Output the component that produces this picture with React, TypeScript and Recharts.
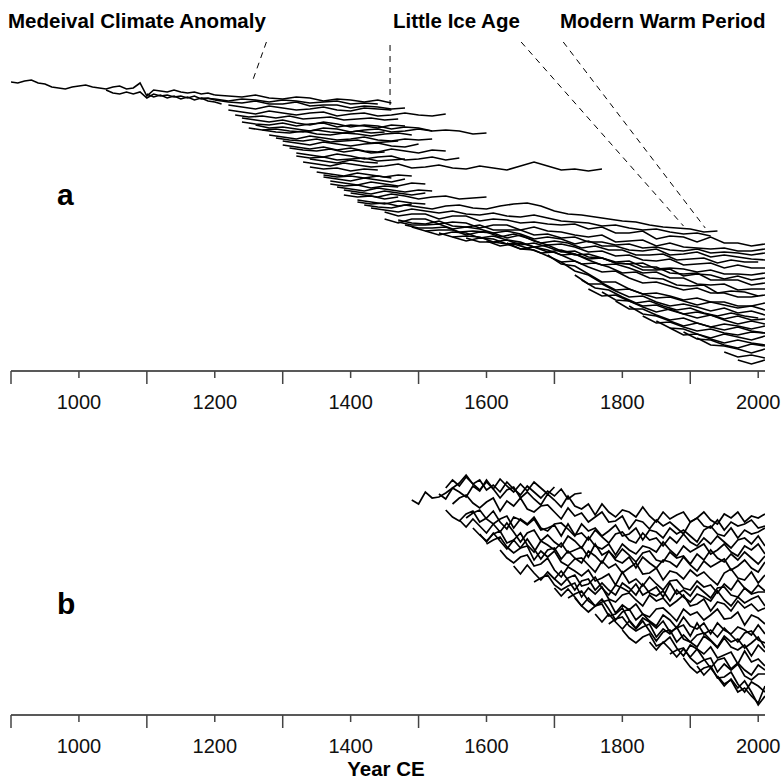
import React from "react"
import { LineChart, Line, XAxis, YAxis, ReferenceLine } from "recharts"

type Series = { from: number; step: number; d: number[] }

// offsets (depth below the top of each panel, arbitrary units)
const trunkA: Series[] = [
  { from: 900, step: 10, d: [11, 11.5, 10.5, 10, 11.5, 12, 13.5, 14, 14.5, 13.5, 13, 12.5, 13.5, 14, 14.5, 13.5, 13, 14.5, 14, 11.5, 18, 15, 15.5, 16, 15, 16, 16.5, 16, 17, 16.5, 17.5] },
  { from: 1040, step: 10, d: [15, 16.5, 17, 16, 17, 16, 19, 17, 18, 17.5, 18.5, 18, 19, 18, 19.5, 19, 20] },
  { from: 1100, step: 10, d: [17, 18.5, 17.5, 19, 18, 19.5, 18.5, 20, 19, 20.5, 21, 22] },
]

const earlyA: Series[] = [
  { from: 1200, step: 20, d: [17.5, 18, 18.5, 17.5, 19, 19.5, 18.5, 19, 20.5, 19.5, 20, 21, 20, 21.5] },
  { from: 1180, step: 20, d: [19, 19.5, 20.5, 19.5, 20, 21, 20, 20.5, 21.5, 21, 20.5, 22, 21.5, 22] },
  { from: 1200, step: 20, d: [20, 21, 21.5, 20.5, 22, 22, 21, 23, 22.5, 22.5, 24, 23, 23.5, 24.5, 24] },
  { from: 1220, step: 20, d: [22.5, 23.5, 24.5, 23, 24, 25, 24.5, 23.5, 25, 25.5, 24, 24.5, 25] },
  { from: 1220, step: 20, d: [25, 26, 27, 25.5, 26.5, 27.5, 26.5, 26, 28, 27, 26.5, 28, 27.5, 26.5, 27.5, 28, 27] },
  { from: 1230, step: 20, d: [27.5, 28.5, 28, 29, 28, 29.5, 29, 28.5, 30, 29.5, 29, 30, 29.5] },
  { from: 1240, step: 20, d: [29, 30, 31, 30, 31.5, 32.5, 31, 32, 33.5, 32.5, 33, 34.5, 33.5, 34, 35.5, 35, 35.5, 37, 36.5] },
  { from: 1240, step: 20, d: [31, 32, 32.5, 31.5, 33, 32, 31.5, 33.5, 32.5, 33, 34, 32.5, 33] },
  { from: 1260, step: 20, d: [32.5, 34, 33.5, 34.5, 35.5, 34, 34.5, 36, 35, 34.5, 36, 35.5, 34.5, 35.5] },
  { from: 1250, step: 20, d: [34, 35, 34.5, 35.5, 36, 35, 36, 36.5, 35.5, 36.5, 36] },
  { from: 1270, step: 20, d: [35, 36, 36.5, 35.5, 37, 37.5, 36.5, 37, 38, 37, 36.5, 37.5] },
  { from: 1280, step: 20, d: [37.5, 38.5, 39.5, 38, 39, 40, 39.5, 38.5, 40, 40.5, 39.5, 40, 39.5] },
  { from: 1290, step: 20, d: [39, 40, 40.5, 39.5, 41, 40.5, 40, 41.5, 41, 40.5] },
  { from: 1300, step: 20, d: [40.5, 41.5, 42.5, 41, 42, 43, 42, 41.5, 43, 43.5, 42] },
  { from: 1300, step: 20, d: [42.5, 43.5, 44.5, 43.5, 45, 44, 45.5, 46, 44.5, 45.5, 46.5, 45, 45.5] },
  { from: 1310, step: 20, d: [44, 45, 45.5, 44.5, 46, 45, 46.5, 46] },
  { from: 1320, step: 20, d: [46.5, 47.5, 48.5, 47, 48, 49.5, 48.5, 48, 50, 49.5, 48.5, 50, 49] },
  { from: 1320, step: 20, d: [48, 49, 48.5, 50, 49.5, 49, 50.5, 50, 49.5] },
  { from: 1340, step: 20, d: [49.5, 50.5, 51.5, 50, 51, 51.5] },
  { from: 1330, step: 20, d: [51, 52, 53, 51.5, 52.5, 53.5, 53, 52, 54, 53.5, 52.5, 54, 54.5, 53, 54, 55, 53, 51, 53, 55, 54.5, 55.5, 54.5] },
  { from: 1340, step: 20, d: [53.5, 54.5, 54, 55.5, 54.5, 55] },
  { from: 1350, step: 20, d: [56, 57, 58, 56.5, 57.5, 58.5, 57.5, 58] },
  { from: 1360, step: 20, d: [57.5, 58.5, 58, 59, 58, 59] },
  { from: 1360, step: 20, d: [58.5, 59.5, 60.5, 59, 60, 61, 59.5] },
  { from: 1370, step: 20, d: [60.5, 61.5, 62.5, 61, 62, 63, 61.5, 62] },
  { from: 1370, step: 20, d: [62, 63, 62.5, 64, 63, 63.5] },
  { from: 1380, step: 20, d: [63.5, 64.5, 65.5, 64, 65, 66, 65, 65.5] },
  { from: 1390, step: 20, d: [65, 66, 67, 65.5, 66.5, 67.5, 66.5] },
  { from: 1400, step: 20, d: [66.5, 67.5, 68.5, 67, 68, 69.5, 68.5, 68, 69.5, 69, 68.5] },
  { from: 1390, step: 20, d: [67.5, 68.5, 68, 69.5, 68.5] },
  { from: 1410, step: 20, d: [70, 71, 72, 70.5, 71.5, 72] },
  { from: 1410, step: 20, d: [71, 72, 71.5, 73, 72] },
]

const lateA: Series[] = [
  { from: 1420, step: 20, d: [72.5, 73.5, 74, 72.5, 73.5, 74.5, 73, 72.5, 74, 74.5, 73, 72, 71.5, 73, 75.5, 77, 77.5, 78.5, 79.5, 80.5, 81, 82.5, 83.5, 84, 84.5, 86, 85.5] },
  { from: 1430, step: 20, d: [74, 75, 76, 74.5, 75.5, 76.5, 75.5, 77, 77.5, 76.5, 78, 78.5, 77.5, 79, 80.5, 81, 81.5, 83, 82.5, 84, 85, 84.5, 86, 87, 86.5, 88] },
  { from: 1450, step: 20, d: [76, 78, 77, 77, 79.5, 78, 78, 80.5, 79.5, 80, 81.5, 81, 82, 82.5, 82, 84.5, 83.5, 86.5, 86.5, 85.5, 89.5, 88, 88.5, 91, 88.5, 91.5, 91.5, 93, 92] },
  { from: 1450, step: 20, d: [79.5, 81.5, 79.5, 79.5, 82, 81, 81.5, 84, 82.5, 82.5, 85, 83.5, 85.5, 86, 87.5, 88.5, 87.5, 91, 90.5, 90, 93, 91.5, 93.5, 94, 94.5, 94, 95.5, 95.5, 94.5] },
  { from: 1470, step: 20, d: [80, 81.5, 82, 80.5, 83, 83.5, 82.5, 85, 85, 85, 87.5, 87, 89, 88.5, 91, 91, 92.5, 92, 94, 93.5, 95, 95.5, 94.5, 96.5, 96, 96.5, 97.5, 96.5] },
  { from: 1470, step: 20, d: [81, 82.5, 82.5, 82, 84.5, 83.5, 84.5, 86.5, 85.5, 87, 89.5, 88.5, 89.5, 92, 90.5, 93, 93, 95, 95.5, 94.5, 97.5, 97, 96, 98.5, 97.5, 98.5, 99.5, 100] },
  { from: 1480, step: 20, d: [82.5, 84, 84, 83.5, 86, 85.5, 86, 88.5, 87, 89, 91.5, 90.5, 91.5, 94, 93, 95, 95, 97.5, 97.5, 97, 100, 99.5, 99, 101.5, 100, 101, 101] },
  { from: 1490, step: 20, d: [83.5, 85.5, 85, 85, 87.5, 86, 86.5, 89, 87.5, 90.5, 92.5, 92, 93.5, 96, 95.5, 98, 97.5, 100, 100.5, 99.5, 102.5, 102, 101.5, 104, 102.5, 104, 104] },
  { from: 1510, step: 20, d: [85.5, 87.5, 86, 86.5, 89, 88, 90, 92.5, 91.5, 93.5, 96, 95.5, 98.5, 99, 101.5, 102, 101.5, 104.5, 104, 104.5, 106, 105, 107, 107, 107.5, 106.5] },
  { from: 1530, step: 20, d: [86.5, 88.5, 88, 88.5, 91, 90, 91, 93.5, 92.5, 95.5, 97.5, 97, 99, 101, 100.5, 103.5, 103.5, 106.5, 107, 106.5, 110, 110, 110, 112.5, 111.5] },
  { from: 1550, step: 20, d: [88.5, 90.5, 89, 89.5, 92, 91.5, 93.5, 96, 95, 97, 99.5, 99, 101.5, 102, 105, 105, 104.5, 108, 107, 107.5, 109.5, 108, 110, 109] },
  { from: 1570, step: 20, d: [89, 91, 91, 92, 94.5, 93.5, 95, 97.5, 97, 100, 102.5, 102, 104, 106.5, 106, 109, 109, 112, 112.5, 112, 115, 114.5, 114.5] },
  { from: 1600, step: 20, d: [90.5, 93, 92, 94, 96.5, 96, 99, 102, 101.5, 103.5, 106.5, 106, 109, 109.5, 112.5, 113, 112.5, 116.5, 115.5, 116, 118] },
  { from: 1630, step: 20, d: [91.5, 94.5, 95, 98, 101, 100.5, 103.5, 106, 105.5, 109, 111.5, 111, 113, 115, 114, 116.5, 116.5, 118.5, 118.5, 117.5] },
  { from: 1690, step: 20, d: [97.5, 102, 103, 107, 111, 111, 114.5, 117, 116.5, 118, 120, 119, 121, 121, 123, 123, 121.5] },
  { from: 1710, step: 20, d: [101, 105.5, 107.5, 111.5, 115, 114.5, 117, 119, 118.5, 120.5, 122.5, 121, 122.5, 124, 123, 125] },
  { from: 1730, step: 20, d: [107.5, 112, 112, 115.5, 118.5, 118, 121, 123, 122, 123.5, 125.5, 124, 126.5, 125.5, 127.5] },
  { from: 1740, step: 20, d: [110, 114, 115, 118.5, 121.5, 120.5, 123, 125, 124, 126.5, 128, 126.5, 128, 129] },
  { from: 1750, step: 20, d: [114.5, 118, 117.5, 120.5, 123, 122.5, 125, 127, 126, 127.5, 129.5, 128, 130, 129.5] },
  { from: 1770, step: 20, d: [116, 120, 120.5, 123.5, 126, 124.5, 127, 129, 127.5, 130, 132, 130.5, 132] },
  { from: 1790, step: 20, d: [120.5, 124.5, 124.5, 127.5, 130, 129, 131.5, 133.5, 132, 133, 134.5, 133] },
  { from: 1810, step: 20, d: [123, 127, 128, 130.5, 133, 131.5, 133.5, 135, 133.5, 135.5, 136.5] },
  { from: 1830, step: 20, d: [128, 131.5, 131, 133.5, 135.5, 134.5, 136.5, 137.5, 136, 136.5] },
  { from: 1850, step: 20, d: [130.5, 134, 134.5, 137, 139, 137, 138.5, 140, 138] },
  { from: 1870, step: 20, d: [134, 137.5, 137, 139.5, 141.5, 140, 141.5, 142.5] },
  { from: 1890, step: 20, d: [136, 139.5, 140, 142.5, 144, 142, 143] },
  { from: 1910, step: 20, d: [139, 142.5, 143, 144.5, 146.5, 144.5] },
  { from: 1950, step: 20, d: [146, 148.5, 147.5, 149] },
  { from: 1970, step: 20, d: [150, 152, 150] },
]

const seriesB: Series[] = [
  { from: 1490, step: 10, d: [20, 22, 16, 19, 18.5, 16.5, 14, 11.5, 7.5, 12, 10, 15, 12.5, 16, 11, 14.5, 17.5, 13, 16, 19, 15.5, 18, 14.5, 19.5, 17, 16.5] },
  { from: 1540, step: 10, d: [14, 10, 13, 8.5, 12, 15, 11, 14.5, 9.5, 13, 16, 12, 15.5, 11, 14, 17, 13.5] },
  { from: 1530, step: 10, d: [17, 19.5, 14, 16, 18.5, 13, 15.5, 10, 14.5, 19, 15, 13.5, 19, 16, 19.5, 22.5, 17, 20, 23.5, 18, 23, 24.5, 22, 27.5, 22, 26, 28.5, 25, 26, 28.5, 23.5, 28, 31, 26, 29.5, 27.5, 26, 31, 29, 26, 30, 32, 27, 29, 26, 31, 28, 29, 27] },
  { from: 1550, step: 10, d: [22, 19, 17.5, 21.5, 24, 21, 19, 25.5, 20.5, 23, 19, 24.5, 26, 23, 22.5, 26, 29.5, 24, 28, 26.5, 31, 28.5, 26, 31, 30.5, 28, 34.5, 30, 31, 34.5, 30, 33, 31, 34, 37, 31, 29, 33, 34, 30, 35, 31, 33, 32, 30, 34, 33] },
  { from: 1540, step: 10, d: [25, 28.5, 30.5, 27, 25.5, 31, 29, 25.5, 31, 34.5, 28.5, 30, 32.5, 29.5, 35, 34, 32.5, 38, 32, 37.5, 36.5, 40, 35, 38.5, 41.5, 37, 36, 40, 41.5, 36.5, 40, 39, 43, 38.5, 41.5, 37, 41, 43, 39, 42, 38, 41, 44, 40, 39, 42, 38, 43] },
  { from: 1560, step: 10, d: [30, 33.5, 29.5, 33, 36.5, 32, 36, 31.5, 36, 41, 36.5, 35, 40.5, 37.5, 41, 43.5, 38, 40.5, 44, 38.5, 43, 44.5, 42, 47.5, 42, 45, 47, 43, 44, 46, 41, 45, 48, 43, 46, 44, 42, 47, 45, 42, 46, 48, 43, 45, 42, 47] },
  { from: 1570, step: 10, d: [29, 26.5, 25, 29.5, 32, 29.5, 28, 34, 29.5, 32, 28.5, 34, 35.5, 32, 31.5, 34.5, 38, 32, 35.5, 34, 38, 35.5, 32.5, 38, 37, 34, 40, 35, 36, 39, 34, 37, 35, 38, 41, 35, 33, 37, 38, 34, 39, 35, 37, 36, 34] },
  { from: 1580, step: 10, d: [34, 37.5, 40.5, 37, 35.5, 41.5, 40, 36.5, 42.5, 46, 40.5, 42.5, 45, 41.5, 46.5, 45, 43.5, 48.5, 42, 47.5, 45.5, 49, 44.5, 47.5, 51, 46.5, 45.5, 50, 51, 46, 49, 48, 52, 47, 50, 45, 49, 51, 47, 50, 46, 49, 52, 48] },
  { from: 1590, step: 10, d: [37, 41, 36.5, 40.5, 44.5, 40, 44, 39.5, 44.5, 49.5, 45, 44, 49.5, 45.5, 49, 51.5, 45.5, 48, 51.5, 45.5, 50, 51.5, 48.5, 54, 48.5, 51.5, 54, 50, 51, 53.5, 48.5, 52.5, 55.5, 50.5, 53.5, 51.5, 49.5, 55, 53, 50, 54, 56, 51] },
  { from: 1600, step: 10, d: [42, 40, 38.5, 43.5, 46.5, 44, 43, 50, 45.5, 48.5, 45.5, 51, 53, 49.5, 49, 52.5, 56, 50.5, 54, 52, 56.5, 54, 51.5, 57, 56.5, 54, 60, 55.5, 56.5, 59.5, 55, 58, 56, 59.5, 62.5, 56.5, 54.5, 59, 60, 56, 61.5, 57.5] },
  { from: 1620, step: 10, d: [45, 49, 51.5, 48.5, 47.5, 53, 52, 49, 55, 58.5, 53.5, 55.5, 58, 55, 60.5, 59, 57, 62.5, 56, 61.5, 59.5, 63, 58.5, 62, 65, 60.5, 60, 64, 65, 60.5, 63.5, 62.5, 66.5, 62, 65, 60, 64, 66.5, 62.5, 65.5] },
  { from: 1640, step: 10, d: [53, 57, 52.5, 56.5, 60, 56, 59.5, 55.5, 60, 65, 60.5, 59.5, 65, 61.5, 65, 67.5, 61.5, 64, 67.5, 62, 66.5, 68, 65.5, 70.5, 65, 68.5, 71, 67, 68.5, 70.5, 65.5, 70, 73, 68.5, 71.5, 69.5, 68, 73] },
  { from: 1670, step: 10, d: [61, 59, 57.5, 62.5, 65, 63, 61.5, 68.5, 64, 67, 63.5, 69.5, 71, 67.5, 66.5, 70, 73, 67.5, 70.5, 69, 73, 70.5, 67.5, 73, 72, 69.5, 75.5, 71, 72, 75.5, 70.5, 74, 72, 75.5, 74] },
  { from: 1690, step: 10, d: [56, 59.5, 62.5, 59, 57.5, 63, 62, 58.5, 64, 67.5, 62.5, 64, 66, 62, 67.5, 65.5, 63.5, 68.5, 61.5, 67, 65, 68, 63, 66, 69, 64, 63.5, 67.5, 68.5, 64, 67, 66, 66] },
  { from: 1700, step: 10, d: [64, 68, 64.5, 68.5, 73, 69, 73, 69.5, 74.5, 80, 76, 74.5, 80, 77, 80.5, 83, 77.5, 80, 84, 78.5, 83, 84.5, 81.5, 87, 81.5, 85, 87, 83.5, 85, 87.5, 82.5, 87] },
  { from: 1720, step: 10, d: [69, 67, 65.5, 70.5, 73, 71, 70, 76.5, 72.5, 75, 72, 77, 78.5, 74.5, 74, 77, 80.5, 74.5, 77.5, 76, 80, 77.5, 74.5, 79.5, 79, 76, 82.5, 77.5, 79, 82] },
  { from: 1730, step: 10, d: [69, 73, 76, 73, 72, 78, 77, 74, 80, 84, 79, 81, 84, 80.5, 86, 84, 82.5, 88, 81.5, 87, 85, 88.5, 84, 87.5, 91, 86.5, 85.5, 90, 91.5] },
  { from: 1760, step: 10, d: [77, 81, 77, 81, 84.5, 80.5, 84.5, 80.5, 85.5, 90.5, 86, 85, 91, 87.5, 91, 93.5, 88, 90.5, 94, 89, 93.5, 95, 92.5, 98, 92.5, 96] },
  { from: 1780, step: 10, d: [82, 79.5, 78.5, 83, 85.5, 83.5, 82, 88.5, 84.5, 87, 83.5, 89.5, 91, 87.5, 86.5, 90, 93.5, 88, 91, 89.5, 94, 91.5, 88.5, 94] },
  { from: 1800, step: 10, d: [85, 89, 91.5, 88.5, 87, 93, 91.5, 88.5, 94, 98, 92.5, 94.5, 97, 93.5, 99, 97.5, 96, 102, 95.5, 101, 99.5, 103] },
  { from: 1840, step: 10, d: [91, 95, 91, 94.5, 98.5, 94.5, 98.5, 94.5, 99.5, 104, 100, 99, 104.5, 101.5, 105, 107.5, 102.5, 105] },
  { from: 1870, step: 10, d: [97, 95, 94, 99, 102, 100, 99, 106, 102, 105, 102, 108, 110, 107, 107] },
  { from: 1890, step: 10, d: [99, 103.5, 106.5, 104, 103, 109, 108.5, 106, 112, 116, 111, 113, 116] },
  { from: 1910, step: 10, d: [103, 107.5, 104, 108.5, 113, 109.5, 114, 110.5, 116, 122.5, 118] },
  { from: 1940, step: 10, d: [108, 112, 110, 116, 114, 118, 121.5, 113] },
]

const tickYears = [900, 1000, 1100, 1200, 1300, 1400, 1500, 1600, 1700, 1800, 1900, 2000]
const labelYears = [1000, 1200, 1400, 1600, 1800, 2000]

// dashed pointers from the period names, in (year, offset) of panel a
const leadersA = [
  { from: [1276, -9], to: [1255, 11] },
  { from: [1458, -7.5], to: [1458, 22.5] },
  { from: [1651, -9], to: [1890, 83] },
  { from: [1713, -9], to: [1922, 84] },
]

const FONT = "'Liberation Sans', Arial, Helvetica, sans-serif"

const toPoints = (s: Series) => s.d.map((v, i) => ({ year: s.from + i * s.step, v }))

function YearTick({ x, y, payload }: any) {
  const labelled = labelYears.includes(payload.value)
  return (
    <g>
      <line x1={x} x2={x} y1={y} y2={y + (labelled ? 7 : 13)} stroke="#444" strokeWidth={1.5} />
      {labelled && (
        <text x={x} y={y + 38} textAnchor="middle" fontSize={20} fontFamily={FONT} fill="#111">
          {payload.value}
        </text>
      )}
    </g>
  )
}

function Panel({ series, height, depth, lineWidth, children }: { series: Series[]; height: number; depth: number; lineWidth: number; children?: React.ReactNode }) {
  return (
    <LineChart width={784} height={height} margin={{ top: 60, right: 19, bottom: 0, left: 11 }}>
      <XAxis
        type="number"
        dataKey="year"
        domain={[900, 2010]}
        ticks={tickYears}
        interval={0}
        height={79}
        tickSize={0}
        tickMargin={0}
        tickLine={false}
        axisLine={{ stroke: "#222", strokeWidth: 1.5 }}
        tick={<YearTick />}
        allowDataOverflow
      />
      <YAxis type="number" hide reversed domain={[0, depth]} allowDataOverflow />
      {series.map((s, i) => (
        <Line
          key={i}
          data={toPoints(s)}
          dataKey="v"
          type="linear"
          stroke="#000"
          strokeWidth={lineWidth}
          strokeLinejoin="miter"
          dot={false}
          activeDot={false}
          isAnimationActive={false}
        />
      ))}
      {children}
    </LineChart>
  )
}

export default function App() {
  return (
    <div style={{ position: "absolute", left: 0, top: 0, width: 784, height: 780, background: "#fff", overflow: "hidden" }}>
      <div style={{ position: "absolute", left: 0, top: 0 }}>
        <Panel series={[...trunkA, ...earlyA, ...lateA]} height={450} depth={155.5} lineWidth={1.6}>
          {leadersA.map((l, i) => (
            <ReferenceLine
              key={i}
              segment={[
                { x: l.from[0], y: l.from[1] },
                { x: l.to[0], y: l.to[1] },
              ]}
              stroke="#000"
              strokeWidth={1}
              strokeDasharray="6 5"
              ifOverflow="visible"
            />
          ))}
        </Panel>
      </div>
      <div style={{ position: "absolute", left: 0, top: 400 }}>
        <Panel series={seriesB} height={394} depth={127.5} lineWidth={1.7} />
      </div>
      <svg width={784} height={780} style={{ position: "absolute", left: 0, top: 0, pointerEvents: "none" }}>
        <g fontFamily={FONT} fontWeight="bold" fill="#000">
          <text x={8} y={28} fontSize={20.5}>Medeival Climate Anomaly</text>
          <text x={393} y={28} fontSize={20.5}>Little Ice Age</text>
          <text x={560} y={28} fontSize={20.5}>Modern Warm Period</text>
          <text x={57} y={205} fontSize={30}>a</text>
          <text x={57} y={614} fontSize={30}>b</text>
          <text x={386} y={776} fontSize={20.5} textAnchor="middle">Year CE</text>
        </g>
      </svg>
    </div>
  )
}
